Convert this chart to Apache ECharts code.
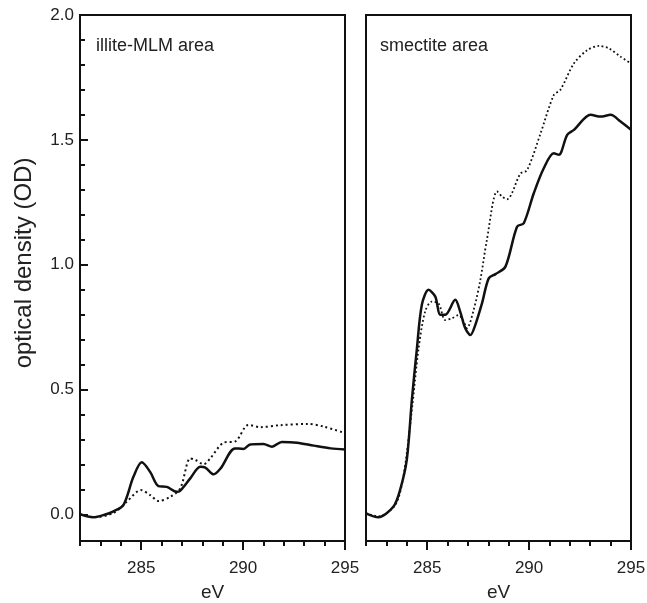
<!DOCTYPE html>
<html>
<head>
<meta charset="utf-8">
<script src="https://cdn.jsdelivr.net/npm/echarts@6/dist/echarts.min.js"></script>
<style>
  html, body { margin: 0; padding: 0; background: #fff; }
  #chart { width: 647px; height: 603px; }
</style>
</head>
<body>
<div id="chart"></div>
<script>
// illite-MLM area
const leftSolidE = [282.0, 282.65, 283.2, 283.64, 284.13, 284.62, 285.03, 285.44, 285.85, 286.26, 286.75, 286.92, 287.41, 287.9, 288.15, 288.56, 288.9, 289.6, 290.02, 290.35, 291.0, 291.42, 291.9, 292.65, 293.47, 294.3, 295.0];
const leftSolidOD = [0.0, -0.012, -0.002, 0.012, 0.037, 0.15, 0.208, 0.17, 0.113, 0.11, 0.09, 0.095, 0.144, 0.19, 0.187, 0.16, 0.184, 0.264, 0.262, 0.28, 0.282, 0.271, 0.29, 0.287, 0.275, 0.264, 0.26];
const leftDotE = [282.0, 282.65, 283.64, 284.29, 284.99, 285.44, 285.85, 286.43, 286.92, 287.41, 287.66, 288.07, 288.39, 289.05, 289.62, 290.26, 290.85, 291.83, 293.15, 293.97, 295.0];
const leftDotOD = [0.0, -0.012, 0.005, 0.05, 0.097, 0.077, 0.053, 0.07, 0.104, 0.224, 0.218, 0.2, 0.224, 0.287, 0.292, 0.358, 0.349, 0.357, 0.362, 0.351, 0.325];

// smectite area
const rightSolidE = [282.0, 282.6, 283.34, 283.67, 284.0, 284.25, 284.49, 284.74, 285.07, 285.4, 285.64, 285.89, 286.38, 286.62, 286.87, 287.12, 287.36, 287.69, 288.02, 288.35, 288.84, 289.41, 289.74, 290.23, 290.72, 291.21, 291.46, 291.87, 292.2, 293.02, 293.51, 294.0, 294.49, 295.0];
const rightSolidOD = [0.004, -0.012, 0.03, 0.097, 0.218, 0.458, 0.658, 0.839, 0.899, 0.872, 0.799, 0.799, 0.859, 0.812, 0.745, 0.718, 0.758, 0.845, 0.945, 0.962, 0.992, 1.152, 1.166, 1.286, 1.386, 1.446, 1.44, 1.52, 1.54, 1.6, 1.593, 1.6, 1.573, 1.54];
const rightDotE = [282.0, 282.6, 283.43, 283.83, 284.25, 284.57, 284.9, 285.23, 285.56, 285.89, 286.21, 286.54, 286.79, 286.95, 287.28, 287.61, 287.93, 288.43, 288.67, 288.92, 289.58, 289.9, 290.56, 291.21, 291.54, 292.2, 292.85, 293.43, 293.92, 294.49, 295.0];
const rightDotOD = [0.004, -0.008, 0.037, 0.15, 0.418, 0.658, 0.812, 0.852, 0.845, 0.778, 0.785, 0.798, 0.772, 0.745, 0.818, 0.939, 1.099, 1.293, 1.273, 1.262, 1.365, 1.378, 1.525, 1.679, 1.701, 1.806, 1.859, 1.876, 1.866, 1.833, 1.806];

const xMajor = [285, 290, 295];
const yMajor = [0, 0.5, 1.0, 1.5, 2.0];
const yMinor = [0, 0.1, 0.2, 0.3, 0.4, 0.5, 0.6, 0.7, 0.8, 0.9, 1.0, 1.1, 1.2, 1.3, 1.4, 1.5, 1.6, 1.7, 1.8, 1.9, 2.0];
const panelTitles = ['illite-MLM area', 'smectite area'];
const yTitle = 'optical density (OD)';

const zip = (xs, ys) => xs.map((x, i) => [x, ys[i]]);
const ink = '#111';
const font = 'Liberation Sans, Arial, sans-serif';

function xAxes(gridIndex) {
	return [
		{
			gridIndex: gridIndex, type: 'value', min: 282, max: 295, position: 'bottom',
			name: 'eV', nameLocation: 'middle', nameGap: 42,
			nameTextStyle: { fontSize: 19, color: '#222', fontFamily: font },
			axisLine: { show: true, onZero: false, lineStyle: { color: ink, width: 2 } },
			axisTick: { show: true, inside: false, length: 9, customValues: xMajor, lineStyle: { color: ink, width: 2 } },
			axisLabel: { customValues: xMajor, margin: 19, fontSize: 17, color: '#222', fontFamily: font },
			splitLine: { show: false }
		},
		{
			gridIndex: gridIndex, type: 'value', min: 282, max: 295, interval: 1, position: 'bottom',
			axisLine: { show: false, onZero: false },
			axisTick: { show: true, inside: false, length: 5, lineStyle: { color: ink, width: 2 } },
			axisLabel: { show: false },
			splitLine: { show: false }
		}
	];
}

const chart = echarts.init(document.getElementById('chart'), null, { renderer: 'canvas' });

const option = {
	animation: false,
	backgroundColor: '#fff',
	title: [
		{ text: panelTitles[0], left: 96, top: 37, padding: 0, textStyle: { fontSize: 18, fontWeight: 'normal', color: '#222', fontFamily: font } },
		{ text: panelTitles[1], left: 380, top: 37, padding: 0, textStyle: { fontSize: 18, fontWeight: 'normal', color: '#222', fontFamily: font } }
	],
	graphic: [
		{
			type: 'text', x: 24, y: 263, rotation: Math.PI / 2,
			style: { text: yTitle, fontSize: 24, fontFamily: font, fill: '#222', align: 'center', verticalAlign: 'middle' }
		}
	],
	grid: [
		{ left: 80, top: 15, width: 265, height: 526, show: true, borderColor: ink, borderWidth: 2, containLabel: false, outerBoundsMode: 'none' },
		{ left: 366, top: 15, width: 265, height: 526, show: true, borderColor: ink, borderWidth: 2, containLabel: false, outerBoundsMode: 'none' }
	],
	xAxis: xAxes(0).concat(xAxes(1)),
	yAxis: [
		{
			gridIndex: 0, type: 'value', min: -0.107, max: 2.0,
			axisLine: { show: true, onZero: false, lineStyle: { color: ink, width: 2 } },
			axisTick: { show: true, inside: true, length: 8, customValues: yMajor, lineStyle: { color: ink, width: 2 } },
			axisLabel: { customValues: yMajor, margin: 6, fontSize: 17, color: '#222', fontFamily: font, formatter: v => v.toFixed(1) },
			splitLine: { show: false }
		},
		{
			gridIndex: 0, type: 'value', min: -0.107, max: 2.0, position: 'left',
			axisLine: { show: false, onZero: false },
			axisTick: { show: true, inside: true, length: 5, customValues: yMinor, lineStyle: { color: ink, width: 2 } },
			axisLabel: { show: false },
			splitLine: { show: false }
		},
		{
			gridIndex: 1, type: 'value', min: -0.107, max: 2.0,
			axisLine: { show: true, onZero: false, lineStyle: { color: ink, width: 2 } },
			axisTick: { show: false },
			axisLabel: { show: false },
			splitLine: { show: false }
		}
	],
	series: [
		{
			type: 'line', xAxisIndex: 0, yAxisIndex: 0, data: zip(leftDotE, leftDotOD),
			smooth: 0.3, showSymbol: false,
			lineStyle: { color: ink, width: 2, type: [2, 3] }
		},
		{
			type: 'line', xAxisIndex: 0, yAxisIndex: 0, data: zip(leftSolidE, leftSolidOD),
			smooth: 0.3, showSymbol: false,
			lineStyle: { color: ink, width: 2.5 }
		},
		{
			type: 'line', xAxisIndex: 2, yAxisIndex: 2, data: zip(rightDotE, rightDotOD),
			smooth: 0.3, showSymbol: false,
			lineStyle: { color: ink, width: 1.8, type: [1.8, 2.5] }
		},
		{
			type: 'line', xAxisIndex: 2, yAxisIndex: 2, data: zip(rightSolidE, rightSolidOD),
			smooth: 0.3, showSymbol: false,
			lineStyle: { color: ink, width: 2.5 }
		}
	]
};

chart.setOption(option);
</script>
</body>
</html>
